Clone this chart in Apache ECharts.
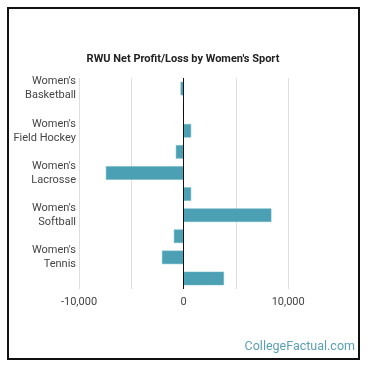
<!DOCTYPE html>
<html>
<head>
<meta charset="utf-8">
<script src="https://cdn.jsdelivr.net/npm/echarts@6/dist/echarts.min.js"></script>
<style>html,body{margin:0;padding:0;background:#fff;}#c{width:370px;height:370px;}</style>
</head>
<body>
<div id="c"></div>
<script>
const categories = ["Women's\nBasketball", "Basketball (b)", "Women's\nField Hockey", "Field Hockey (b)", "Women's\nLacrosse", "Lacrosse (b)", "Women's\nSoftball", "Softball (b)", "Women's\nTennis", "Tennis (b)"];
const values = [-290, -40, 720, -740, -7430, 720, 8390, -930, -2070, 3860];
const xTicks = [-10000, 0, 10000];

const chart = echarts.init(document.getElementById('c'), null, {renderer: 'canvas'});
chart.setOption({
  animation: false,
  backgroundColor: '#fff',
  title: {
    text: "RWU Net Profit/Loss by Women's Sport",
    left: 178, top: 49, textAlign: 'center',
    textStyle: {fontFamily: 'Roboto', fontSize: 11, fontWeight: 'bold', color: '#222'}
  },
  grid: {left: 79, right: 29.5, top: 78, bottom: 81, containLabel: false},
  xAxis: {
    type: 'value', min: -10000, max: 15000, interval: 5000,
    axisLine: {show: false}, axisTick: {show: false},
    splitLine: {show: true, showMaxLine: false, lineStyle: {color: '#dedede', width: 1}},
    axisLabel: {
      fontFamily: 'Roboto', fontSize: 11, color: '#444', margin: 8,
      formatter: v => xTicks.includes(v) ? (v === 0 ? '0' : v.toLocaleString('en-US')) : ''
    }
  },
  yAxis: {
    type: 'category', inverse: true, data: categories,
    axisLine: {show: false}, axisTick: {show: false},
    axisLabel: {interval: 1, fontFamily: 'Roboto', fontSize: 11, color: '#444', lineHeight: 14, margin: 3, align: 'right'}
  },
  series: [{
    type: 'bar', data: values, barCategoryGap: '36%',
    itemStyle: {color: '#4ba0b3', borderColor: '#6fb6c5', borderWidth: 0.5},
    markLine: {
      silent: true, symbol: 'none', label: {show: false},
      lineStyle: {color: '#111', width: 1, type: 'solid'},
      data: [{xAxis: 0}]
    }
  }],
  graphic: [
    {type: 'rect', shape: {x: 8, y: 8, width: 351, height: 351}, style: {fill: null, stroke: '#111', lineWidth: 2}, z: 100},
    {type: 'text', right: 15, top: 340, style: {text: 'CollegeFactual.com', font: '12.5px Roboto', fill: '#5a9fb3'}}
  ]
});
</script>
</body>
</html>
